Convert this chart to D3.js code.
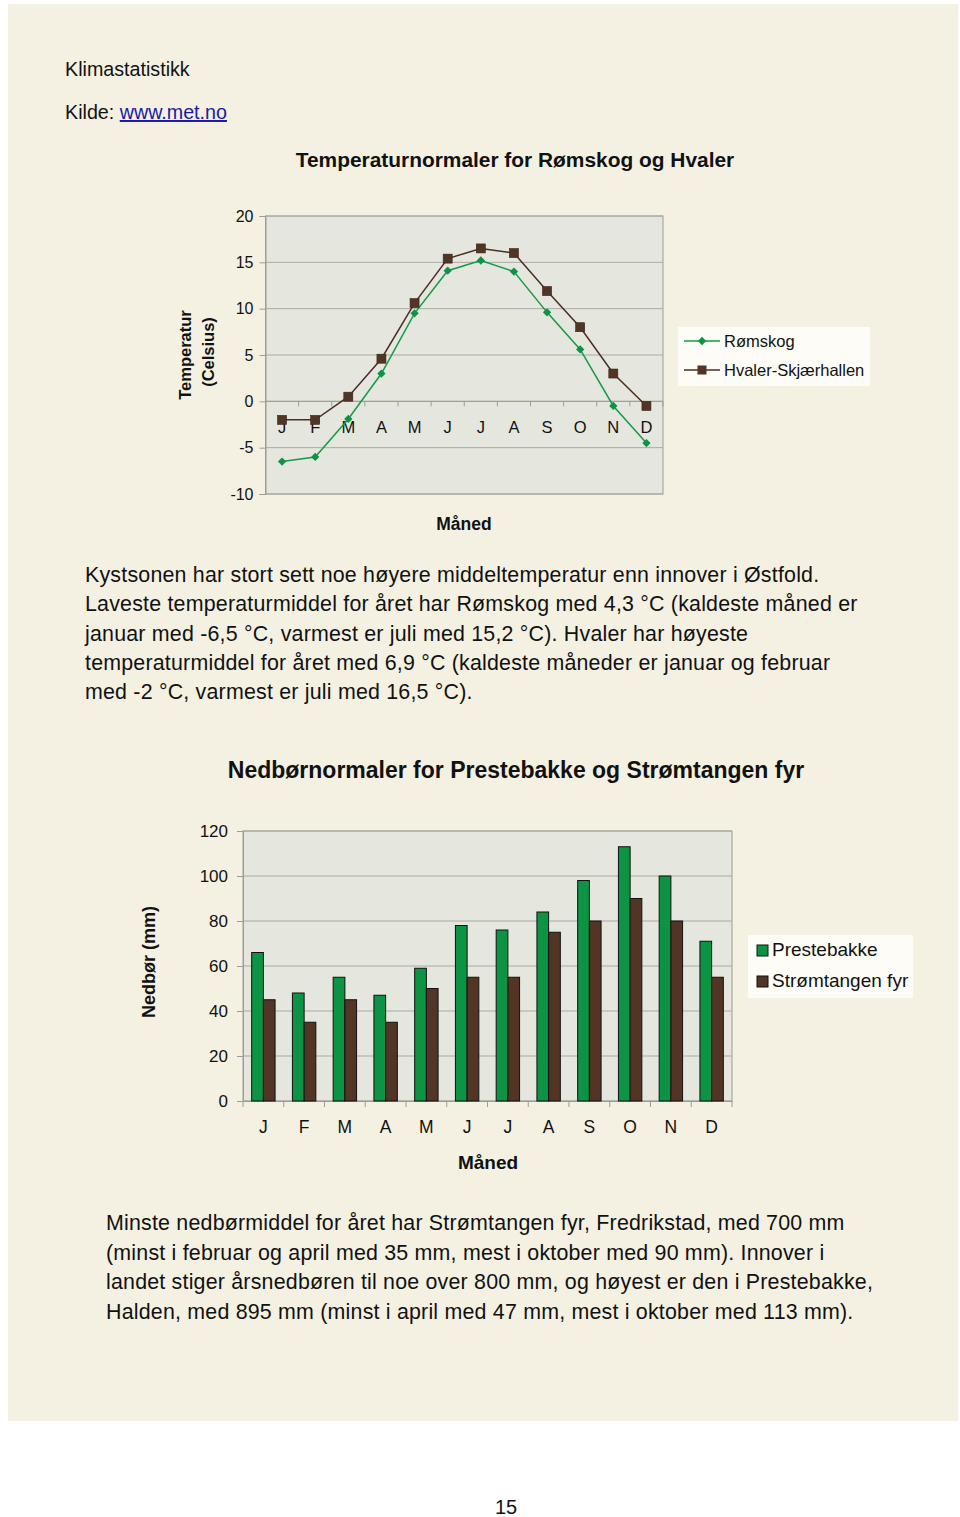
<!DOCTYPE html>
<head>
    <meta charset="utf-8">
    <script src="https://d3js.org/d3.v7.min.js"></script>
    <style>
        body { margin: 0; background: #fff; }
        text { font-family: "Liberation Sans", Arial, sans-serif; fill: #111; }
        .grid line { stroke: #a9aaa2; }
        .bold { font-weight: bold; }
        .body { font-size: 21.4px; letter-spacing: 0.2px; }
    </style>
</head>
<body>
    <svg width="960" height="1517"></svg>
    <script>
        var months = ["J", "F", "M", "A", "M", "J", "J", "A", "S", "O", "N", "D"];

        // temperatur (Celsius)
        var romskog = [-6.5, -6.0, -1.9, 3.0, 9.5, 14.1, 15.2, 14.0, 9.6, 5.6, -0.5, -4.5];
        var hvaler = [-2.0, -2.0, 0.5, 4.6, 10.6, 15.4, 16.5, 16.0, 11.9, 8.0, 3.0, -0.5];
        var tempTicks = [-10, -5, 0, 5, 10, 15, 20];

        // nedbør (mm)
        var prestebakke = [66, 48, 55, 47, 59, 78, 76, 84, 98, 113, 100, 71];
        var stromtangen = [45, 35, 45, 35, 50, 55, 55, 75, 80, 90, 80, 55];
        var rainTicks = [0, 20, 40, 60, 80, 100, 120];

        var green = "#0c9444", brown = "#533526", lineGreen = "#159a4a", lineBrown = "#4a2e22";

        var svg = d3.select("svg");

        svg.append("rect").attr("x", 8).attr("y", 4).attr("width", 950).attr("height", 1417)
            .attr("fill", "#f4f1e2");

        svg.append("text").attr("x", 65).attr("y", 76).style("font-size", "19.7px").text("Klimastatistikk");
        var kilde = svg.append("text").attr("x", 65).attr("y", 119).style("font-size", "19.7px");
        kilde.append("tspan").text("Kilde: ");
        kilde.append("tspan").style("fill", "#1a1aa6").attr("text-decoration", "underline").text("www.met.no");

        // ---------- temperature chart ----------
        var tx = d3.scaleBand().domain(d3.range(12)).range([265.5, 663]);
        var ty = d3.scaleLinear().domain([-10, 20]).range([494, 216]);

        svg.append("text").attr("class", "bold").attr("x", 515).attr("y", 167)
            .attr("text-anchor", "middle").style("font-size", "20.9px")
            .text("Temperaturnormaler for Rømskog og Hvaler");

        svg.append("rect").attr("x", 265.5).attr("y", 216).attr("width", 397.5).attr("height", 278)
            .attr("fill", "#e5e6dd").attr("stroke", "#9c9d96");

        svg.append("g").attr("class", "grid").selectAll("line").data(tempTicks).enter().append("line")
            .attr("x1", 265.5).attr("x2", 663).attr("y1", d => ty(d)).attr("y2", d => ty(d));

        var tyAxis = svg.append("g").attr("transform", "translate(265.5,0)")
            .call(d3.axisLeft(ty).tickValues(tempTicks).tickSize(6).tickPadding(6).tickFormat(d => String(d)));
        tyAxis.select(".domain").attr("stroke", "#9c9d96");
        tyAxis.selectAll(".tick line").attr("stroke", "#9c9d96");
        tyAxis.selectAll("text").style("font-size", "16px").style("font-family", "Liberation Sans, Arial, sans-serif").attr("fill", "#111");

        // x axis drawn at zero
        var txAxis = svg.append("g").attr("transform", "translate(0," + ty(0) + ")");
        txAxis.append("line").attr("x1", 265.5).attr("x2", 663).attr("stroke", "#9c9d96");
        txAxis.selectAll("line.t").data(d3.range(13)).enter().append("line").attr("class", "t")
            .attr("x1", d => 265.5 + d * tx.step()).attr("x2", d => 265.5 + d * tx.step())
            .attr("y1", 0).attr("y2", 5).attr("stroke", "#9c9d96");
        txAxis.selectAll("text").data(months).enter().append("text")
            .attr("x", (d, i) => tx(i) + tx.bandwidth() / 2).attr("y", 32)
            .attr("text-anchor", "middle").style("font-size", "16.5px").text(d => d);

        var line = d3.line().x((d, i) => tx(i) + tx.bandwidth() / 2).y(d => ty(d));

        svg.append("path").datum(hvaler).attr("d", line).attr("fill", "none")
            .attr("stroke", lineBrown).attr("stroke-width", 1.5);
        svg.append("path").datum(romskog).attr("d", line).attr("fill", "none")
            .attr("stroke", lineGreen).attr("stroke-width", 1.5);

        svg.append("g").selectAll("rect").data(hvaler).enter().append("rect")
            .attr("x", (d, i) => tx(i) + tx.bandwidth() / 2 - 4.5).attr("y", d => ty(d) - 4.5)
            .attr("width", 9).attr("height", 9).attr("fill", brown).attr("stroke", "#3a2218").attr("stroke-width", 0.6);
        svg.append("g").selectAll("path").data(romskog).enter().append("path")
            .attr("d", d3.symbol(d3.symbolDiamond2, 44))
            .attr("transform", (d, i) => "translate(" + (tx(i) + tx.bandwidth() / 2) + "," + ty(d) + ")")
            .attr("fill", green);

        // axis titles
        svg.append("text").attr("class", "bold").attr("transform", "translate(191,355) rotate(-90)")
            .attr("text-anchor", "middle").style("font-size", "16.5px").text("Temperatur");
        svg.append("text").attr("class", "bold").attr("transform", "translate(214,352) rotate(-90)")
            .attr("text-anchor", "middle").style("font-size", "16.5px").text("(Celsius)");
        svg.append("text").attr("class", "bold").attr("x", 464).attr("y", 530)
            .attr("text-anchor", "middle").style("font-size", "17.5px").text("Måned");

        // legend
        var tl = svg.append("g");
        tl.append("rect").attr("x", 678).attr("y", 327).attr("width", 192).attr("height", 59).attr("fill", "#fdfcf6");
        var tLeg = [{name: "Rømskog", c: lineGreen, y: 341, sym: "d"}, {name: "Hvaler-Skjærhallen", c: lineBrown, y: 370, sym: "s"}];
        tLeg.forEach(function (d) {
            tl.append("line").attr("x1", 684).attr("x2", 720).attr("y1", d.y).attr("y2", d.y)
                .attr("stroke", d.c).attr("stroke-width", 1.5);
            if (d.sym === "d") {
                tl.append("path").attr("d", d3.symbol(d3.symbolDiamond2, 44))
                    .attr("transform", "translate(702," + d.y + ")").attr("fill", green);
            } else {
                tl.append("rect").attr("x", 697.5).attr("y", d.y - 4.5).attr("width", 9).attr("height", 9)
                    .attr("fill", brown);
            }
            tl.append("text").attr("x", 724).attr("y", d.y + 6).style("font-size", "16.5px").text(d.name);
        });

        // ---------- paragraph 1 ----------
        var para1 = [
            "Kystsonen har stort sett noe høyere middeltemperatur enn innover i Østfold.",
            "Laveste temperaturmiddel for året har Rømskog med 4,3 °C (kaldeste måned er",
            "januar med -6,5 °C, varmest er juli med 15,2 °C). Hvaler har høyeste",
            "temperaturmiddel for året med 6,9 °C (kaldeste måneder er januar og februar",
            "med -2 °C, varmest er juli med 16,5 °C)."
        ];
        svg.append("g").selectAll("text").data(para1).enter().append("text").attr("class", "body")
            .attr("x", 85).attr("y", (d, i) => 582 + i * 29.3).text(d => d);

        // ---------- precipitation chart ----------
        var rx = d3.scaleBand().domain(d3.range(12)).range([243, 732]);
        var ry = d3.scaleLinear().domain([0, 120]).range([1101, 831]);
        var sub = d3.scaleBand().domain([0, 1]).range([0, 23.4]);
        var off = (rx.bandwidth() - 23.4) / 2;

        svg.append("text").attr("class", "bold").attr("x", 516).attr("y", 778)
            .attr("text-anchor", "middle").style("font-size", "23px")
            .text("Nedbørnormaler for Prestebakke og Strømtangen fyr");

        svg.append("rect").attr("x", 243).attr("y", 831).attr("width", 489).attr("height", 270)
            .attr("fill", "#e5e6dd").attr("stroke", "#9c9d96");

        svg.append("g").attr("class", "grid").selectAll("line").data(rainTicks).enter().append("line")
            .attr("x1", 243).attr("x2", 732).attr("y1", d => ry(d)).attr("y2", d => ry(d));

        var ryAxis = svg.append("g").attr("transform", "translate(243,0)")
            .call(d3.axisLeft(ry).tickValues(rainTicks).tickSize(6).tickPadding(9));
        ryAxis.select(".domain").attr("stroke", "#9c9d96");
        ryAxis.selectAll(".tick line").attr("stroke", "#9c9d96");
        ryAxis.selectAll("text").style("font-size", "17px").style("font-family", "Liberation Sans, Arial, sans-serif").attr("fill", "#111");

        var rxAxis = svg.append("g").attr("transform", "translate(0,1101)")
            .call(d3.axisBottom(rx).tickSize(0).tickPadding(20).tickFormat(i => months[i]));
        rxAxis.select(".domain").attr("stroke", "#9c9d96");
        rxAxis.selectAll("text").style("font-size", "17.5px").style("font-family", "Liberation Sans, Arial, sans-serif").attr("fill", "#111");
        rxAxis.selectAll("line.t").data(d3.range(13)).enter().append("line").attr("class", "t")
            .attr("x1", d => 243 + d * rx.step()).attr("x2", d => 243 + d * rx.step())
            .attr("y1", 0).attr("y2", 6).attr("stroke", "#9c9d96");

        var bars = svg.append("g").attr("stroke", "#111").attr("stroke-width", 1);
        bars.selectAll("rect.p").data(prestebakke).enter().append("rect").attr("class", "p")
            .attr("x", (d, i) => rx(i) + off + sub(0)).attr("y", d => ry(d))
            .attr("width", sub.bandwidth()).attr("height", d => ry(0) - ry(d)).attr("fill", green);
        bars.selectAll("rect.s").data(stromtangen).enter().append("rect").attr("class", "s")
            .attr("x", (d, i) => rx(i) + off + sub(1)).attr("y", d => ry(d))
            .attr("width", sub.bandwidth()).attr("height", d => ry(0) - ry(d)).attr("fill", brown);

        svg.append("text").attr("class", "bold").attr("transform", "translate(155,962) rotate(-90)")
            .attr("text-anchor", "middle").style("font-size", "18px").text("Nedbør (mm)");
        svg.append("text").attr("class", "bold").attr("x", 488).attr("y", 1169)
            .attr("text-anchor", "middle").style("font-size", "19px").text("Måned");

        var rl = svg.append("g");
        rl.append("rect").attr("x", 748).attr("y", 935).attr("width", 165).attr("height", 63).attr("fill", "#fdfcf6");
        var rLeg = [{name: "Prestebakke", c: green, y: 950}, {name: "Strømtangen fyr", c: brown, y: 981}];
        rLeg.forEach(function (d) {
            rl.append("rect").attr("x", 757).attr("y", d.y - 5).attr("width", 11).attr("height", 11)
                .attr("fill", d.c).attr("stroke", "#111");
            rl.append("text").attr("x", 772).attr("y", d.y + 6).style("font-size", "19px").text(d.name);
        });

        // ---------- paragraph 2 ----------
        var para2 = [
            "Minste nedbørmiddel for året har Strømtangen fyr, Fredrikstad, med 700 mm",
            "(minst i februar og april med 35 mm, mest i oktober med 90 mm). Innover i",
            "landet stiger årsnedbøren til noe over 800 mm, og høyest er den i Prestebakke,",
            "Halden, med 895 mm (minst i april med 47 mm, mest i oktober med 113 mm)."
        ];
        svg.append("g").selectAll("text").data(para2).enter().append("text").attr("class", "body")
            .attr("x", 106).attr("y", (d, i) => 1230 + i * 29.5).text(d => d);

        svg.append("text").attr("x", 506).attr("y", 1514).attr("text-anchor", "middle")
            .style("font-size", "20px").text("15");
    </script>
</body>
